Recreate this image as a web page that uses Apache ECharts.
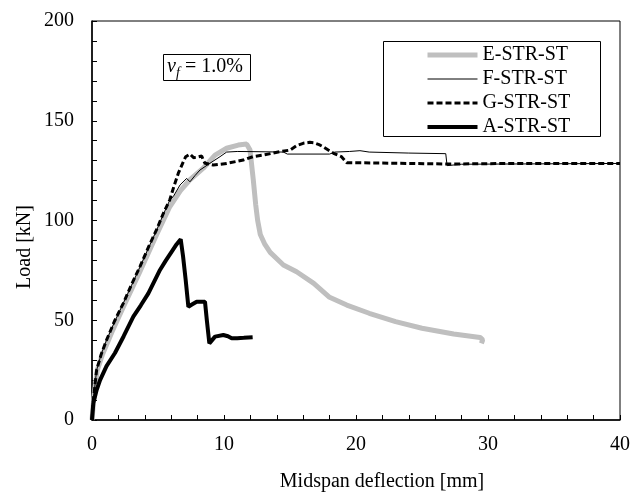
<!DOCTYPE html>
<html>
<head>
<meta charset="utf-8">
<script src="https://cdn.jsdelivr.net/npm/echarts@6/dist/echarts.min.js"></script>
<style>
  html, body { margin: 0; padding: 0; background: #fff; }
  #chart { width: 633px; height: 498px; }
</style>
</head>
<body>
<div id="chart"></div>
<script>
// Load–deflection curves, midspan deflection [mm] vs load [kN]
const seriesNames = ['E-STR-ST', 'F-STR-ST', 'G-STR-ST', 'A-STR-ST'];

const eDefl = [0, 0.15, 0.4, 0.8, 1.5, 2.4, 3.6, 4.9, 5.9, 6.7, 7.4, 8.43, 9.32, 10.2, 11.08, 11.72, 11.97, 12.22, 12.4, 12.55, 12.75, 13.1, 13.5, 14.5, 15.5, 16.8, 18.0, 19.3, 21.0, 23.0, 25.0, 27.4, 29.4, 29.6, 29.5];
const eLoad = [0, 12, 25, 33, 44, 57, 74, 93, 107, 115, 120.3, 126.2, 132.8, 136.2, 137.8, 138.3, 135.3, 120.3, 108, 100, 93, 88, 84, 77.7, 74.3, 68.5, 61.5, 57.6, 53.5, 49.3, 46, 43.1, 41.4, 40.2, 38.4];

const fDefl = [0, 0.1, 0.35, 0.7, 1.1, 1.7, 2.37, 3.0, 3.64, 4.3, 4.9, 5.4, 5.9, 6.16, 6.67, 7.17, 7.42, 7.8, 8.18, 8.94, 9.7, 10.2, 11.0, 12.5, 14.5, 14.8, 18.0, 18.4, 19.5, 20.3, 21.0, 24.0, 26.8, 26.9, 28.0, 40.0];
const fLoad = [0, 10, 25, 33, 40, 49, 58.5, 67.5, 76.8, 86.5, 95.2, 103, 110.3, 112, 117.8, 121.1, 119.4, 122.5, 125.3, 128.7, 132, 134.3, 134.6, 134.5, 134.3, 133.3, 133.3, 134.3, 134.6, 135, 134.3, 133.8, 133.5, 127.5, 128.2, 128.6];

const gDefl = [0, 0.1, 0.35, 0.7, 1.1, 1.7, 2.37, 3.0, 3.64, 4.3, 4.9, 5.4, 5.9, 6.2, 6.54, 6.92, 7.1, 7.42, 7.7, 7.93, 8.31, 8.45, 8.56, 9.19, 10.2, 11.46, 12.2, 12.98, 14.24, 15.0, 15.5, 16.0, 16.5, 16.8, 17.2, 17.5, 18.3, 18.9, 19.1, 19.3, 22.0, 27.0, 30.0, 35.0, 40.0];
const gLoad = [0, 10, 25, 33, 40, 49.5, 58.5, 68, 77, 87, 95.5, 103.5, 110.5, 117, 123.7, 129.5, 132, 133.3, 131.5, 131.7, 132.3, 130, 128.7, 127.8, 128.6, 130.3, 132, 132.8, 134.5, 135.3, 137.5, 138.7, 139.2, 139, 138, 137, 133.7, 132, 130.5, 129, 128.8, 128.3, 128.5, 128.6, 128.6];

const aDefl = [0, 0.1, 0.35, 0.61, 1.1, 1.74, 2.4, 3.13, 3.7, 4.27, 5.15, 5.6, 6.04, 6.4, 6.72, 6.9, 7.1, 7.3, 7.6, 7.93, 8.56, 8.7, 8.89, 9.32, 9.95, 10.3, 10.58, 11.0, 11.5, 12.17];
const aLoad = [0, 8.4, 15, 20, 27, 33.6, 42, 51.8, 57.5, 63.5, 75.2, 80, 84.4, 88, 90.6, 82, 70, 56.8, 58, 59.3, 59.3, 50, 38.4, 41.8, 42.6, 42, 41, 41, 41.2, 41.5];

const xTickLabels = [0, 10, 20, 30, 40];
const yTickLabels = [0, 50, 100, 150, 200];

const pair = (xs, ys) => xs.map((x, i) => [x, ys[i]]);

const FONT = 'Liberation Serif';
const chart = echarts.init(document.getElementById('chart'), null, { renderer: 'canvas' });

const baseSeries = (name, xs, ys, lineStyle) => ({
  name: name,
  type: 'line',
  data: pair(xs, ys),
  symbol: 'none',
  smooth: false,
  animation: false,
  lineStyle: lineStyle,
  itemStyle: { color: lineStyle.color }
});

chart.setOption({
  animation: false,
  backgroundColor: '#fff',
  grid: {
    left: 92, top: 21, width: 528, height: 399,
    show: true, borderColor: '#000', borderWidth: 1, backgroundColor: 'transparent'
  },
  xAxis: {
    type: 'value', min: 0, max: 40, interval: 2,
    name: 'Midspan deflection [mm]', nameLocation: 'middle', nameGap: 52,
    nameTextStyle: { fontFamily: FONT, fontSize: 20, color: '#000', padding: [0, 0, 0, 52] },
    axisLine: { show: true, onZero: false, lineStyle: { color: '#000', width: 1.5 } },
    axisTick: { show: true, inside: true, length: 5, lineStyle: { color: '#000', width: 1 } },
    axisLabel: {
      margin: 15, fontFamily: FONT, fontSize: 20, color: '#000',
      formatter: v => (xTickLabels.indexOf(v) >= 0 ? String(v) : '')
    },
    splitLine: { show: false }
  },
  yAxis: {
    type: 'value', min: 0, max: 200, interval: 10,
    axisLine: { show: true, onZero: false, lineStyle: { color: '#000', width: 1.5 } },
    axisTick: { show: true, inside: true, length: 5, lineStyle: { color: '#000', width: 1 } },
    axisLabel: {
      margin: 18, fontFamily: FONT, fontSize: 20, color: '#000',
      formatter: v => (yTickLabels.indexOf(v) >= 0 ? String(v) : '')
    },
    splitLine: { show: false }
  },
  legend: {
    orient: 'vertical', left: 420, top: 40,
    itemWidth: 50, itemHeight: 14, itemGap: 4,
    itemStyle: { color: 'transparent', borderWidth: 0, opacity: 0 },
    lineStyle: { width: 'inherit', type: 'inherit' },
    textStyle: { fontFamily: FONT, fontSize: 20, color: '#000', lineHeight: 20 },
    data: seriesNames
  },
  graphic: [
    { type: 'rect', shape: { x: 383.5, y: 41.5, width: 217, height: 95 },
      style: { fill: 'transparent', stroke: '#000', lineWidth: 1 }, z: 10 },
    { type: 'rect', shape: { x: 163.5, y: 54.5, width: 87, height: 26 },
      style: { fill: 'transparent', stroke: '#000', lineWidth: 1 }, z: 10 },
    { type: 'text', x: 167, y: 67, z: 10,
      style: { text: 'v', fontFamily: FONT, fontSize: 20, fontStyle: 'italic', fill: '#000', verticalAlign: 'middle' } },
    { type: 'text', x: 176, y: 73, z: 10,
      style: { text: 'f', fontFamily: FONT, fontSize: 14, fontStyle: 'italic', fill: '#000', verticalAlign: 'middle' } },
    { type: 'text', x: 185, y: 67, z: 10,
      style: { text: '= 1.0%', fontFamily: FONT, fontSize: 20, fill: '#000', verticalAlign: 'middle' } },
    { type: 'text', x: 25, y: 247, rotation: Math.PI / 2, z: 10,
      style: { text: 'Load [kN]', fontFamily: FONT, fontSize: 20, fill: '#000', align: 'center', verticalAlign: 'middle' } }
  ],
  series: [
    baseSeries(seriesNames[0], eDefl, eLoad, { color: '#bfbfbf', width: 5 }),
    baseSeries(seriesNames[1], fDefl, fLoad, { color: '#000', width: 1 }),
    baseSeries(seriesNames[2], gDefl, gLoad, { color: '#000', width: 3, type: [6, 3] }),
    baseSeries(seriesNames[3], aDefl, aLoad, { color: '#000', width: 4 })
  ]
});
</script>
</body>
</html>
